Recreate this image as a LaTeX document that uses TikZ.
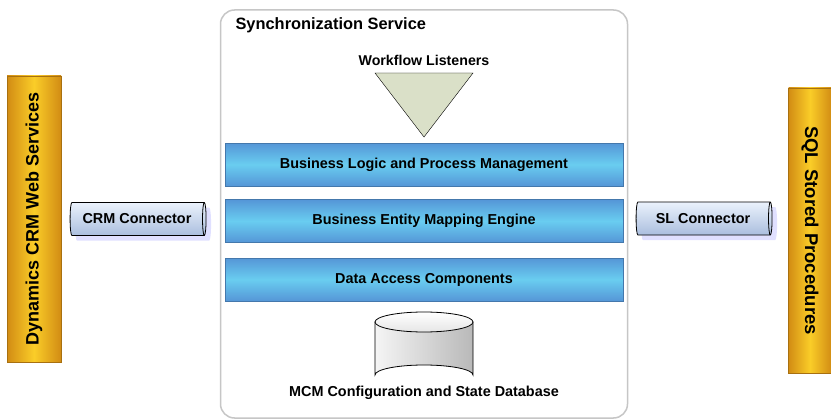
\documentclass[tikz,border=0pt]{standalone}
\usepackage{fontspec}
\setmainfont{Liberation Sans}
\usetikzlibrary{shapes.geometric,shadows}

\definecolor{barmid}{RGB}{105,205,240}
\definecolor{baredge}{RGB}{85,150,215}
\definecolor{goldmid}{RGB}{250,205,40}
\definecolor{goldedge}{RGB}{210,140,20}
\definecolor{listener}{RGB}{218,224,200}
\definecolor{pipetop}{RGB}{235,242,252}
\definecolor{pipebot}{RGB}{170,190,222}

\tikzset{
  layer/.style={draw=baredge!80!black, line width=0.4pt, inner sep=0pt,
    minimum width=398pt, minimum height=43pt, top color=baredge,
    bottom color=baredge, middle color=barmid, font=\bfseries\fontsize{14.4}{16}\selectfont},
  goldbar/.style={draw=goldedge!80!black, inner sep=0pt, left color=goldedge,
    right color=goldedge, middle color=goldmid},
  pipe/.style={cylinder, draw, thick, aspect=0.35, inner sep=0pt,
    minimum width=33pt, minimum height=136pt, top color=pipetop, bottom color=pipebot,
    drop shadow={shadow xshift=5pt, shadow yshift=-5pt, fill=blue!12, opacity=1},
    font=\bfseries\fontsize{14.4}{16}\selectfont}
}

\begin{document}
\begin{tikzpicture}[x=1pt, y=-1pt]
  \useasboundingbox (0,0) rectangle (831,420);
  % synchronization service box
  \node[draw=gray!45, line width=1.5pt, rounded corners=14pt, fill=white,
    minimum width=407pt, minimum height=408pt, inner sep=0pt] (service) at (424,214) {};
  \node[anchor=west, font=\bfseries\fontsize{16.4}{18}\selectfont] (title) at (232,25) {Synchronization Service};
  \node[font=\bfseries\fontsize{14.2}{16}\selectfont] (wl) at (424,60) {Workflow Listeners};
  \draw[fill=listener, thin] (375,73) -- (473,73) -- (424,137) -- cycle;
  \node[layer] (logic) at (424,164.5) {Business Logic and Process Management};
  \node[layer] (mapping) at (424,221) {Business Entity Mapping Engine};
  \node[layer] (access) at (424,279.5) {Data Access Components};
  % database
  \coordinate (db) at (424,322);
  \draw[thick, left color=gray!8, right color=gray!55] ([xshift=-49pt]db) -- ++(0,53)
    arc[start angle=180, end angle=360, x radius=49, y radius=10] -- ([xshift=49pt]db) -- cycle;
  \draw[thick, top color=white, bottom color=gray!20] (db) ellipse[x radius=49, y radius=10];
  \node[font=\bfseries\fontsize{14.4}{16}\selectfont] (dblabel) at (424,393) {MCM Configuration and State Database};
  % outer systems
  \node[goldbar, minimum width=54pt, minimum height=286pt] (crm) at (34,219) {};
  \node[rotate=90, font=\bfseries\fontsize{18}{20}\selectfont] at (crm.center) {Dynamics CRM Web Services};
  \node[goldbar, minimum width=43pt, minimum height=285pt] (sql) at (810,230.5) {};
  \node[rotate=-90, font=\bfseries\fontsize{18.5}{20}\selectfont] at (sql.center) {SQL Stored Procedures};
  \node[pipe] (crmconn) at (137,219) {CRM Connector};
  \node[pipe] (slconn) at (703,218.5) {SL Connector};
\end{tikzpicture}
\end{document}
